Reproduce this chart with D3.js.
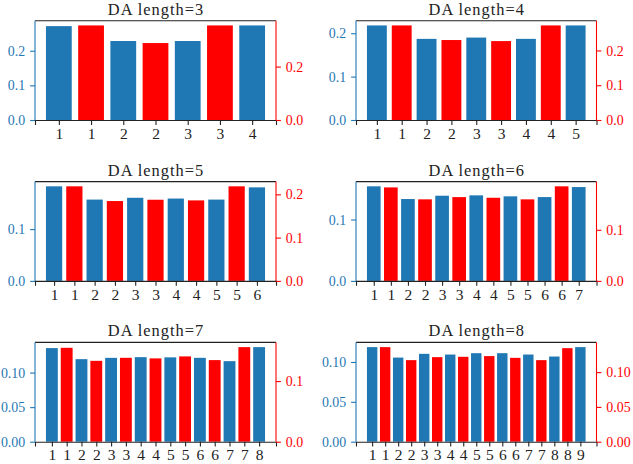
<!DOCTYPE html>
<html><head><meta charset="utf-8">
<script src="https://cdn.jsdelivr.net/npm/d3@7"></script>
<style>body{margin:0;background:#fff}svg{display:block}</style></head>
<body>
<svg id="c" width="633" height="464"></svg>
<script>
const daLengths = [3, 4, 5, 6, 7, 8];
// Blue series (left axis) per subplot
const blue3 = [0.271, 0.228, 0.228, 0.273];
const blue4 = [0.218, 0.187, 0.190, 0.187, 0.218];
const blue5 = [0.1826, 0.157, 0.1605, 0.159, 0.157, 0.1806];
const blue6 = [0.154, 0.1333, 0.1387, 0.1393, 0.1377, 0.1365, 0.1528];
const blue7 = [0.1354, 0.1194, 0.1213, 0.1223, 0.122, 0.1213, 0.1165, 0.1368];
const blue8 = [0.1186, 0.1055, 0.1102, 0.1093, 0.111, 0.111, 0.1093, 0.1068, 0.1186];
// Red series (right axis) per subplot
const red3 = [0.354, 0.288, 0.354];
const red4 = [0.272, 0.230, 0.227, 0.272];
const red5 = [0.2185, 0.1845, 0.1875, 0.186, 0.2185];
const red6 = [0.183, 0.1596, 0.164, 0.1627, 0.1596, 0.1851];
const red7 = [0.1549, 0.1334, 0.1384, 0.1374, 0.1407, 0.1346, 0.156];
const red8 = [0.1359, 0.1172, 0.1215, 0.122, 0.123, 0.1205, 0.1172, 0.1344];
// Tick values and formats
const leftTicks = [[0, 0.1, 0.2], [0, 0.1, 0.2], [0, 0.1], [0, 0.1], [0, 0.05, 0.1], [0, 0.05, 0.1]];
const rightTicks = [[0, 0.2], [0, 0.1, 0.2], [0, 0.1, 0.2], [0, 0.1], [0, 0.1], [0, 0.05, 0.1]];
const leftFmt = [".1f", ".1f", ".1f", ".1f", ".2f", ".2f"];
const rightFmt = [".1f", ".1f", ".1f", ".1f", ".1f", ".2f"];

const blues = [blue3, blue4, blue5, blue6, blue7, blue8];
const reds = [red3, red4, red5, red6, red7, red8];

const BLUE = "#1f77b4", RED = "#ff0000";
const FONT = "'Liberation Serif','Times New Roman',serif";
const colX = [35, 356], colW = [241, 240.5];
const rowY = [20.7, 181.6, 342.4], rowH = 99.3;
const tickLen = 4.9, pad = 4.9;

const svg = d3.select("#c");

daLengths.forEach((L, k) => {
  const col = k % 2, row = Math.floor(k / 2);
  const x0 = colX[col], y0 = rowY[row], w = colW[col], h = rowH;
  const g = svg.append("g").attr("transform", `translate(${x0},${y0})`);
  const bl = blues[k], rd = reds[k];
  const n = bl.length + rd.length;
  // interleave bars
  const bars = d3.range(n).map(i => ({
    i, series: i % 2 === 0 ? "b" : "r",
    v: i % 2 === 0 ? bl[i / 2] : rd[(i - 1) / 2],
    label: String(Math.floor(i / 2) + 1)
  }));
  const span = (n - 1) + 0.8, m = 0.05 * span;
  const x = d3.scaleLinear().domain([-0.4 - m, n - 1 + 0.4 + m]).range([0, w]);
  const yL = d3.scaleLinear().domain([0, d3.max(bl) * 1.05]).range([h, 0]);
  const yR = d3.scaleLinear().domain([0, d3.max(rd) * 1.05]).range([h, 0]);

  g.selectAll("rect.bar").data(bars).join("rect")
    .attr("x", d => x(d.i - 0.4))
    .attr("width", d => x(0.8) - x(0))
    .attr("y", d => (d.series === "b" ? yL : yR)(d.v))
    .attr("height", d => h - (d.series === "b" ? yL : yR)(d.v))
    .attr("fill", d => d.series === "b" ? BLUE : RED);

  // spines
  g.append("line").attr("x1", 0).attr("x2", w).attr("y1", 0).attr("y2", 0).attr("stroke", "#222").attr("stroke-width", 1.1);
  g.append("line").attr("x1", 0).attr("x2", 0).attr("y1", 0).attr("y2", h).attr("stroke", BLUE).attr("stroke-width", 1.1);
  g.append("line").attr("x1", w).attr("x2", w).attr("y1", 0).attr("y2", h).attr("stroke", RED).attr("stroke-width", 1.1);

  // bottom axis
  const xa = g.append("g").attr("transform", `translate(0,${h})`)
    .call(d3.axisBottom(x).tickValues(d3.range(n)).tickFormat(i => bars[i].label).tickSize(tickLen).tickPadding(pad));
  xa.select(".domain").attr("stroke", "#222").attr("stroke-width", 1.1);
  xa.selectAll(".tick line").attr("stroke", "#222").attr("stroke-width", 1.1);
  xa.selectAll(".tick text").attr("font-family", FONT).attr("font-size", 15.5).attr("fill", "#222")
    .attr("dy", null).attr("y", 18.8);

  // left axis
  const la = g.append("g")
    .call(d3.axisLeft(yL).tickValues(leftTicks[k]).tickFormat(d3.format(leftFmt[k])).tickSize(tickLen).tickPadding(pad));
  la.select(".domain").remove();
  la.selectAll(".tick line").attr("stroke", BLUE).attr("stroke-width", 1.1);
  la.selectAll(".tick text").attr("font-family", FONT).attr("font-size", 13.9).attr("fill", BLUE)
    .attr("dy", "0.33em");

  // right axis
  const ra = g.append("g").attr("transform", `translate(${w},0)`)
    .call(d3.axisRight(yR).tickValues(rightTicks[k]).tickFormat(d3.format(rightFmt[k])).tickSize(tickLen).tickPadding(pad));
  ra.select(".domain").remove();
  ra.selectAll(".tick line").attr("stroke", RED).attr("stroke-width", 1.1);
  ra.selectAll(".tick text").attr("font-family", FONT).attr("font-size", 13.9).attr("fill", RED)
    .attr("dy", "0.33em");

  // title
  g.append("text").attr("x", w / 2 + 0.5).attr("y", -6).attr("text-anchor", "middle")
    .attr("font-family", FONT).attr("font-size", 16.4).attr("letter-spacing", 1).attr("fill", "#222")
    .text(`DA length=${L}`);
});
</script>
</body></html>
